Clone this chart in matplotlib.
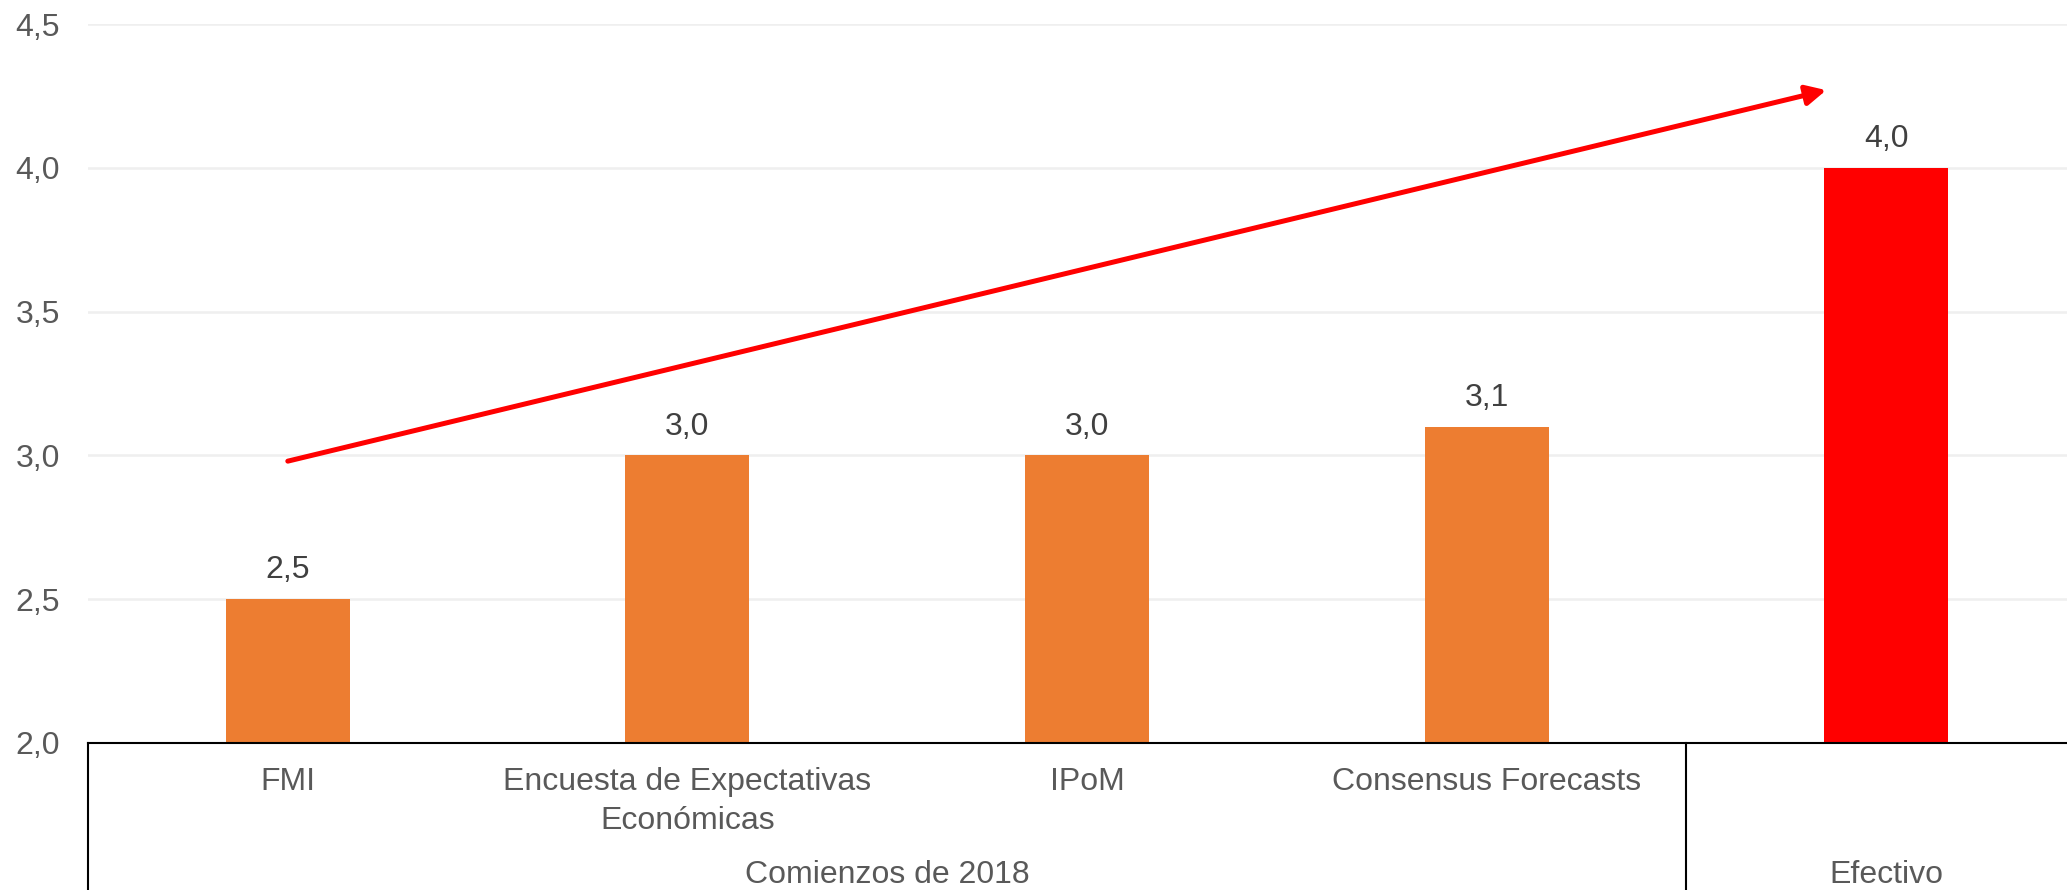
import matplotlib.pyplot as plt
import matplotlib.transforms as mtransforms

# ---------------- DATA ----------------
categories = ["FMI", "Encuesta de Expectativas\nEconómicas", "IPoM", "Consensus Forecasts", ""]
values = [2.5, 3.0, 3.0, 3.1, 4.0]
value_labels = ["2,5", "3,0", "3,0", "3,1", "4,0"]
bar_colors = ["#ED7D31", "#ED7D31", "#ED7D31", "#ED7D31", "#FF0000"]
groups = ["Comienzos de 2018", "Efectivo"]
group_centers = [1.5, 4.0]
group_edges = [-0.5, 3.5]
y_ticks = [2.0, 2.5, 3.0, 3.5, 4.0, 4.5]
y_tick_labels = ["2,0", "2,5", "3,0", "3,5", "4,0", "4,5"]
arrow_start = (0.0, 2.98)
arrow_end = (3.85, 4.27)

plt.rcParams['font.family'] = ['Liberation Sans', 'DejaVu Sans']
FS = 23

fig = plt.figure(figsize=(20.67, 8.9), dpi=100)
ax = fig.add_axes([88 / 2067, 147 / 890, 1998 / 2067, 719 / 890])

x = range(len(values))
ax.bar(x, values, width=0.31, color=bar_colors, bottom=0, zorder=3)
ax.set_ylim(2.0, 4.5)
ax.set_xlim(-0.5, 4.5)

# value labels on top of the bars
for i, (v, lab) in enumerate(zip(values, value_labels)):
    ax.annotate(lab, (i, v), xytext=(0, 10), textcoords="offset points",
                ha="center", va="bottom", fontsize=FS, color="#404040")

# grid and axes styling
ax.set_yticks(y_ticks)
ax.set_yticklabels(y_tick_labels, fontsize=FS, color="#595959")
ax.yaxis.grid(True, color="#efefef", linewidth=1.8, zorder=0)
ax.tick_params(axis="y", length=0, pad=20)
for s in ["top", "right", "left"]:
    ax.spines[s].set_visible(False)
ax.spines["bottom"].set_color("black")
ax.spines["bottom"].set_linewidth(1.5)
ax.spines["bottom"].set_zorder(4)

ax.set_xticks(list(x))
ax.set_xticklabels(categories, fontsize=FS, color="#595959", linespacing=1.4)
ax.tick_params(axis="x", length=0, pad=17)

# group separators and labels below the axis
for e in group_edges:
    ax.plot([e, e], [2.0, 1.3], color="black", linewidth=1.5, clip_on=False, zorder=4)

trans = mtransforms.blended_transform_factory(ax.transData, ax.transAxes)
for g, c in zip(groups, group_centers):
    ax.text(c, -0.1836, g, transform=trans, ha="center", va="center",
            fontsize=FS, color="#595959")

# trend arrow
ax.annotate("", xy=arrow_end, xytext=arrow_start,
            arrowprops=dict(arrowstyle="-|>,head_length=1.2,head_width=0.6",
                            color="#FF0000", linewidth=3.6, shrinkA=0, shrinkB=0),
            zorder=5)

fig.savefig("out.png", dpi=100)
